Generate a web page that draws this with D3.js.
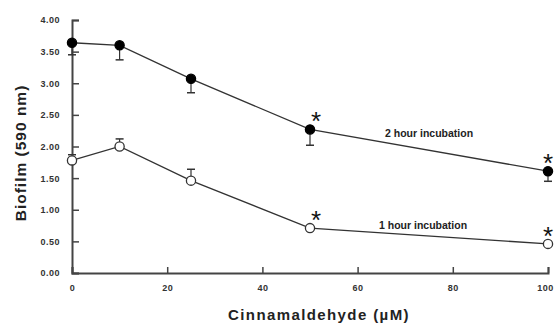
<!DOCTYPE html>
<html>
<head>
<meta charset="utf-8">
<script src="https://cdn.jsdelivr.net/npm/d3@7"></script>
<style>
  body { margin: 0; background: #fff; }
  svg { display: block; font-family: "Liberation Sans", Arial, sans-serif; }
</style>
</head>
<body>
<div id="chart"></div>
<script>
// concentrations (uM)
var conc = [0, 10, 25, 50, 100];
// 2 hour incubation: mean and lower error
var twoHour = [3.64, 3.60, 3.07, 2.27, 1.61];
var twoHourErr = [0.19, 0.23, 0.22, 0.25, 0.16];
// 1 hour incubation: mean and upper error
var oneHour = [1.78, 2.00, 1.46, 0.71, 0.46];
var oneHourErr = [0.09, 0.12, 0.18, 0, 0];
var signif = [false, false, false, true, true];
var yTicks = [0, 0.5, 1, 1.5, 2, 2.5, 3, 3.5, 4];
var xTicks = [0, 20, 40, 60, 80, 100];

var width = 555, height = 323;
var svg = d3.select('#chart').append('svg')
  .attr('width', width)
  .attr('height', height);

var x = d3.scaleLinear().domain([0, 100]).range([72, 548]);
var y = d3.scaleLinear().domain([0, 4]).range([273, 20]);

var axisColor = '#444';

// y axis
var yAxis = svg.append('g')
  .attr('transform', 'translate(' + x(0) + ',0)')
  .call(d3.axisLeft(y).tickValues(yTicks).tickSize(-7).tickPadding(12)
    .tickFormat(d3.format('.2f')));
yAxis.select('.domain').attr('stroke', axisColor).attr('stroke-width', 2);
yAxis.selectAll('.tick line').attr('stroke', axisColor).attr('stroke-width', 1.5);
yAxis.selectAll('.tick text')
  .attr('fill', '#333').attr('font-size', 9).attr('font-weight', 'bold')
  .attr('letter-spacing', 0.5);

// x axis
var xAxis = svg.append('g')
  .attr('transform', 'translate(0,' + y(0) + ')')
  .call(d3.axisBottom(x).tickValues(xTicks).tickSize(-6).tickPadding(12));
xAxis.select('.domain').attr('stroke', axisColor).attr('stroke-width', 2);
xAxis.selectAll('.tick line').attr('stroke', axisColor).attr('stroke-width', 1.5);
xAxis.selectAll('.tick text')
  .attr('fill', '#333').attr('font-size', 9).attr('font-weight', 'bold')
  .attr('letter-spacing', 0.5)
  .attr('dx', function (d) { return d === 100 ? -3 : 0; });

// axis titles
svg.append('text')
  .attr('transform', 'translate(26,153) rotate(-90)')
  .attr('text-anchor', 'middle')
  .attr('font-size', 15.5).attr('font-weight', 'bold').attr('fill', '#222')
  .attr('letter-spacing', 1)
  .text('Biofilm (590 nm)');

svg.append('text')
  .attr('x', 319).attr('y', 320)
  .attr('text-anchor', 'middle')
  .attr('font-size', 15).attr('font-weight', 'bold').attr('fill', '#222')
  .attr('letter-spacing', 1.4)
  .text('Cinnamaldehyde  (\u00b5M)');

function drawSeries(vals, errs, dir, filled, label, lx, ly) {
  var g = svg.append('g');
  var pts = vals.map(function (v, i) {
    return { c: conc[i], v: v, e: errs[i], sig: signif[i] };
  });
  var line = d3.line()
    .x(function (d) { return x(d.c); })
    .y(function (d) { return y(d.v); });

  // error bars (one-sided)
  pts.filter(function (d) { return d.e > 0; }).forEach(function (d) {
    var yEnd = y(d.v + dir * d.e);
    g.append('line')
      .attr('x1', x(d.c)).attr('x2', x(d.c))
      .attr('y1', y(d.v)).attr('y2', yEnd)
      .attr('stroke', '#333').attr('stroke-width', 1.2);
    g.append('line')
      .attr('x1', x(d.c) - 4).attr('x2', x(d.c) + 4)
      .attr('y1', yEnd).attr('y2', yEnd)
      .attr('stroke', '#333').attr('stroke-width', 1.5);
  });

  g.append('path')
    .datum(pts)
    .attr('d', line)
    .attr('fill', 'none')
    .attr('stroke', '#333')
    .attr('stroke-width', 1.3);

  g.selectAll('circle')
    .data(pts)
    .enter().append('circle')
    .attr('cx', function (d) { return x(d.c); })
    .attr('cy', function (d) { return y(d.v); })
    .attr('r', 4.6)
    .attr('fill', filled ? '#000' : '#fff')
    .attr('stroke', filled ? '#000' : '#333')
    .attr('stroke-width', 1.3);

  // significance stars (kept inside the right edge)
  g.selectAll('.star')
    .data(pts.filter(function (d) { return d.sig; }))
    .enter().append('text')
    .attr('class', 'star')
    .attr('x', function (d) { return Math.min(x(d.c) + 6, width - 7); })
    .attr('y', function (d) { return y(d.v) + 1; })
    .attr('text-anchor', 'middle')
    .attr('font-size', 26)
    .attr('fill', '#111')
    .text('*');

  svg.append('text')
    .attr('x', lx).attr('y', ly)
    .attr('font-size', 10.5).attr('font-weight', 'bold').attr('fill', '#222')
    .text(label);
}

drawSeries(twoHour, twoHourErr, -1, true, '2 hour incubation', 385, 137);
drawSeries(oneHour, oneHourErr, 1, false, '1 hour incubation', 379, 229);
</script>
</body>
</html>
